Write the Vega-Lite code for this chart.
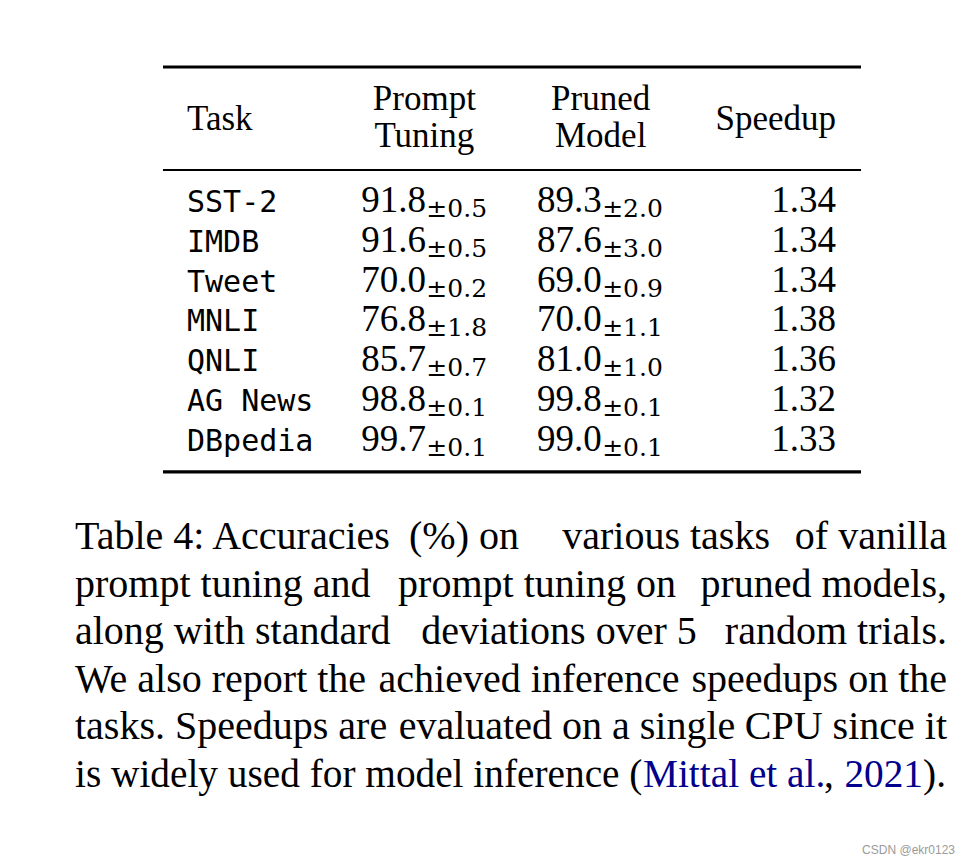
{
  "$schema": "https://vega.github.io/schema/vega-lite/v6.json",
  "width": 968,
  "height": 864,
  "autosize": "none",
  "padding": 0,
  "background": "white",
  "config": {"view": {"stroke": null}, "text": {"color": "black"}},
  "datasets": {
    "rows": [
      {"i": 0, "task": "SST-2", "pt": 91.8, "pt_sd": 0.5, "pm": 89.3, "pm_sd": 2.0, "speedup": 1.34},
      {"i": 1, "task": "IMDB", "pt": 91.6, "pt_sd": 0.5, "pm": 87.6, "pm_sd": 3.0, "speedup": 1.34},
      {"i": 2, "task": "Tweet", "pt": 70.0, "pt_sd": 0.2, "pm": 69.0, "pm_sd": 0.9, "speedup": 1.34},
      {"i": 3, "task": "MNLI", "pt": 76.8, "pt_sd": 1.8, "pm": 70.0, "pm_sd": 1.1, "speedup": 1.38},
      {"i": 4, "task": "QNLI", "pt": 85.7, "pt_sd": 0.7, "pm": 81.0, "pm_sd": 1.0, "speedup": 1.36},
      {"i": 5, "task": "AG News", "pt": 98.8, "pt_sd": 0.1, "pm": 99.8, "pm_sd": 0.1, "speedup": 1.32},
      {"i": 6, "task": "DBpedia", "pt": 99.7, "pt_sd": 0.1, "pm": 99.0, "pm_sd": 0.1, "speedup": 1.33}
    ],
    "caption": [
      {"line": 0, "part": "start", "text": "Table 4:  Accuracies"},
      {"line": 0, "part": "mid-left", "text": "(%) on"},
      {"line": 0, "part": "mid-right", "text": "various tasks"},
      {"line": 0, "part": "end", "text": "of vanilla"},
      {"line": 1, "part": "start", "text": "prompt tuning and"},
      {"line": 1, "part": "middle", "text": "prompt tuning on"},
      {"line": 1, "part": "end", "text": "pruned models,"},
      {"line": 2, "part": "start", "text": "along with standard"},
      {"line": 2, "part": "middle", "text": "deviations over 5"},
      {"line": 2, "part": "end", "text": "random trials."},
      {"line": 3, "part": "start", "text": "We also report the"},
      {"line": 3, "part": "middle", "text": "achieved inference"},
      {"line": 3, "part": "end", "text": "speedups on the"},
      {"line": 4, "part": "start", "text": "tasks. Speedups are"},
      {"line": 4, "part": "middle", "text": "evaluated on a single"},
      {"line": 4, "part": "end", "text": "CPU since it"},
      {"line": 5, "part": "last-start", "text": "is widely used for model inference ("},
      {"line": 5, "part": "cite-author", "text": "Mittal et al."},
      {"line": 5, "part": "comma", "text": ","},
      {"line": 5, "part": "cite-year", "text": "2021"},
      {"line": 5, "part": "close", "text": ")."}
    ]
  },
  "resolve": {"scale": {"y": "independent"}},
  "layer": [
    {
      "data": {"values": [{"rule": "top"}]},
      "mark": {"type": "rule", "strokeWidth": 3.2, "color": "black", "xOffset": -24, "x2Offset": 25, "yOffset": -145},
      "encoding": {
        "x": {"datum": "Task", "type": "nominal", "scale": {"type": "point", "domain": ["Task", "Prompt Tuning", "Pruned Model", "Speedup"], "range": [187, 836], "padding": 0}, "axis": null},
        "x2": {"datum": "Speedup"},
        "y": {"datum": 0, "type": "quantitative", "scale": {"domain": [0, 6], "range": [212, 450.8], "zero": false, "nice": false}, "axis": null}
      }
    },
    {
      "data": {"values": [{"rule": "mid"}]},
      "mark": {"type": "rule", "strokeWidth": 1.9, "color": "black", "xOffset": -24, "x2Offset": 25, "yOffset": -42},
      "encoding": {
        "x": {"datum": "Task", "type": "nominal", "axis": null},
        "x2": {"datum": "Speedup"},
        "y": {"datum": 0, "type": "quantitative", "scale": {"domain": [0, 6], "range": [212, 450.8], "zero": false, "nice": false}, "axis": null}
      }
    },
    {
      "data": {"values": [{"rule": "bottom"}]},
      "mark": {"type": "rule", "strokeWidth": 3.2, "color": "black", "xOffset": -24, "x2Offset": 25, "yOffset": 21},
      "encoding": {
        "x": {"datum": "Task", "type": "nominal", "axis": null},
        "x2": {"datum": "Speedup"},
        "y": {"datum": 6, "type": "quantitative", "scale": {"domain": [0, 6], "range": [212, 450.8], "zero": false, "nice": false}, "axis": null}
      }
    },
    {
      "data": {"values": [{"label": "Task"}]},
      "mark": {"type": "text", "font": "Liberation Serif", "fontSize": 35, "align": "left", "baseline": "alphabetic", "dy": -82},
      "encoding": {
        "x": {"datum": "Task", "type": "nominal", "axis": null},
        "y": {"datum": 0, "type": "quantitative", "scale": {"domain": [0, 6], "range": [212, 450.8], "zero": false, "nice": false}, "axis": null},
        "text": {"field": "label"}
      }
    },
    {
      "data": {"values": [{"label": "Prompt"}]},
      "mark": {"type": "text", "font": "Liberation Serif", "fontSize": 35, "align": "center", "baseline": "alphabetic", "dx": 21, "dy": -102},
      "encoding": {
        "x": {"datum": "Prompt Tuning", "type": "nominal", "axis": null},
        "y": {"datum": 0, "type": "quantitative", "scale": {"domain": [0, 6], "range": [212, 450.8], "zero": false, "nice": false}, "axis": null},
        "text": {"field": "label"}
      }
    },
    {
      "data": {"values": [{"label": "Tuning"}]},
      "mark": {"type": "text", "font": "Liberation Serif", "fontSize": 35, "align": "center", "baseline": "alphabetic", "dx": 21, "dy": -65},
      "encoding": {
        "x": {"datum": "Prompt Tuning", "type": "nominal", "axis": null},
        "y": {"datum": 0, "type": "quantitative", "scale": {"domain": [0, 6], "range": [212, 450.8], "zero": false, "nice": false}, "axis": null},
        "text": {"field": "label"}
      }
    },
    {
      "data": {"values": [{"label": "Pruned"}]},
      "mark": {"type": "text", "font": "Liberation Serif", "fontSize": 35, "align": "center", "baseline": "alphabetic", "dx": -19, "dy": -102},
      "encoding": {
        "x": {"datum": "Pruned Model", "type": "nominal", "axis": null},
        "y": {"datum": 0, "type": "quantitative", "scale": {"domain": [0, 6], "range": [212, 450.8], "zero": false, "nice": false}, "axis": null},
        "text": {"field": "label"}
      }
    },
    {
      "data": {"values": [{"label": "Model"}]},
      "mark": {"type": "text", "font": "Liberation Serif", "fontSize": 35, "align": "center", "baseline": "alphabetic", "dx": -19, "dy": -65},
      "encoding": {
        "x": {"datum": "Pruned Model", "type": "nominal", "axis": null},
        "y": {"datum": 0, "type": "quantitative", "scale": {"domain": [0, 6], "range": [212, 450.8], "zero": false, "nice": false}, "axis": null},
        "text": {"field": "label"}
      }
    },
    {
      "data": {"values": [{"label": "Speedup"}]},
      "mark": {"type": "text", "font": "Liberation Serif", "fontSize": 35, "align": "right", "baseline": "alphabetic", "dy": -82},
      "encoding": {
        "x": {"datum": "Speedup", "type": "nominal", "axis": null},
        "y": {"datum": 0, "type": "quantitative", "scale": {"domain": [0, 6], "range": [212, 450.8], "zero": false, "nice": false}, "axis": null},
        "text": {"field": "label"}
      }
    },
    {
      "data": {"name": "rows"},
      "mark": {"type": "text", "font": "DejaVu Sans Mono", "fontSize": 30, "align": "left", "baseline": "alphabetic"},
      "encoding": {
        "x": {"datum": "Task", "type": "nominal", "axis": null},
        "y": {"field": "i", "type": "quantitative", "scale": {"domain": [0, 6], "range": [212, 450.8], "zero": false, "nice": false}, "axis": null},
        "text": {"field": "task"}
      }
    },
    {
      "data": {"name": "rows"},
      "mark": {"type": "text", "font": "Liberation Serif", "fontSize": 37, "align": "left", "baseline": "alphabetic", "dx": -42},
      "encoding": {
        "x": {"datum": "Prompt Tuning", "type": "nominal", "axis": null},
        "y": {"field": "i", "type": "quantitative", "scale": {"domain": [0, 6], "range": [212, 450.8], "zero": false, "nice": false}, "axis": null},
        "text": {"field": "pt", "format": ".1f"}
      }
    },
    {
      "data": {"name": "rows"},
      "transform": [{"calculate": "'±' + format(datum.pt_sd, '.1f')", "as": "pt_sd_label"}],
      "mark": {"type": "text", "font": "DejaVu Serif", "fontSize": 25, "align": "left", "baseline": "alphabetic", "dx": 23, "dy": 5},
      "encoding": {
        "x": {"datum": "Prompt Tuning", "type": "nominal", "axis": null},
        "y": {"field": "i", "type": "quantitative", "scale": {"domain": [0, 6], "range": [212, 450.8], "zero": false, "nice": false}, "axis": null},
        "text": {"field": "pt_sd_label"}
      }
    },
    {
      "data": {"name": "rows"},
      "mark": {"type": "text", "font": "Liberation Serif", "fontSize": 37, "align": "left", "baseline": "alphabetic", "dx": -82.7},
      "encoding": {
        "x": {"datum": "Pruned Model", "type": "nominal", "axis": null},
        "y": {"field": "i", "type": "quantitative", "scale": {"domain": [0, 6], "range": [212, 450.8], "zero": false, "nice": false}, "axis": null},
        "text": {"field": "pm", "format": ".1f"}
      }
    },
    {
      "data": {"name": "rows"},
      "transform": [{"calculate": "'±' + format(datum.pm_sd, '.1f')", "as": "pm_sd_label"}],
      "mark": {"type": "text", "font": "DejaVu Serif", "fontSize": 25, "align": "left", "baseline": "alphabetic", "dx": -17.5, "dy": 5},
      "encoding": {
        "x": {"datum": "Pruned Model", "type": "nominal", "axis": null},
        "y": {"field": "i", "type": "quantitative", "scale": {"domain": [0, 6], "range": [212, 450.8], "zero": false, "nice": false}, "axis": null},
        "text": {"field": "pm_sd_label"}
      }
    },
    {
      "data": {"name": "rows"},
      "mark": {"type": "text", "font": "Liberation Serif", "fontSize": 37, "align": "right", "baseline": "alphabetic"},
      "encoding": {
        "x": {"datum": "Speedup", "type": "nominal", "axis": null},
        "y": {"field": "i", "type": "quantitative", "scale": {"domain": [0, 6], "range": [212, 450.8], "zero": false, "nice": false}, "axis": null},
        "text": {"field": "speedup", "format": ".2f"}
      }
    },
    {
      "data": {"name": "caption"},
      "transform": [{"filter": "datum.part === 'start'"}],
      "mark": {"type": "text", "font": "Liberation Serif", "fontSize": 40, "align": "left", "baseline": "alphabetic", "dx": -112},
      "encoding": {
        "x": {"datum": "Task", "type": "nominal", "axis": null},
        "y": {"field": "line", "type": "quantitative", "scale": {"domain": [0, 5], "range": [549, 787], "zero": false, "nice": false}, "axis": null},
        "text": {"field": "text"}
      }
    },
    {
      "data": {"name": "caption"},
      "transform": [{"filter": "datum.part === 'end'"}],
      "mark": {"type": "text", "font": "Liberation Serif", "fontSize": 40, "align": "right", "baseline": "alphabetic", "dx": 760},
      "encoding": {
        "x": {"datum": "Task", "type": "nominal", "axis": null},
        "y": {"field": "line", "type": "quantitative", "scale": {"domain": [0, 5], "range": [549, 787], "zero": false, "nice": false}, "axis": null},
        "text": {"field": "text"}
      }
    },
    {
      "data": {"name": "caption"},
      "transform": [{"filter": "datum.part === 'mid-left'"}],
      "mark": {"type": "text", "font": "Liberation Serif", "fontSize": 40, "align": "left", "baseline": "alphabetic", "dx": 222},
      "encoding": {
        "x": {"datum": "Task", "type": "nominal", "axis": null},
        "y": {"field": "line", "type": "quantitative", "scale": {"domain": [0, 5], "range": [549, 787], "zero": false, "nice": false}, "axis": null},
        "text": {"field": "text"}
      }
    },
    {
      "data": {"name": "caption"},
      "transform": [{"filter": "datum.part === 'mid-right'"}],
      "mark": {"type": "text", "font": "Liberation Serif", "fontSize": 40, "align": "right", "baseline": "alphabetic", "dx": 583},
      "encoding": {
        "x": {"datum": "Task", "type": "nominal", "axis": null},
        "y": {"field": "line", "type": "quantitative", "scale": {"domain": [0, 5], "range": [549, 787], "zero": false, "nice": false}, "axis": null},
        "text": {"field": "text"}
      }
    },
    {
      "data": {"name": "caption"},
      "transform": [{"filter": "datum.part === 'middle' && datum.line === 1"}],
      "mark": {"type": "text", "font": "Liberation Serif", "fontSize": 40, "align": "center", "baseline": "alphabetic", "dx": 350},
      "encoding": {
        "x": {"datum": "Task", "type": "nominal", "axis": null},
        "y": {"field": "line", "type": "quantitative", "scale": {"domain": [0, 5], "range": [549, 787], "zero": false, "nice": false}, "axis": null},
        "text": {"field": "text"}
      }
    },
    {
      "data": {"name": "caption"},
      "transform": [{"filter": "datum.part === 'middle' && datum.line === 2"}],
      "mark": {"type": "text", "font": "Liberation Serif", "fontSize": 40, "align": "center", "baseline": "alphabetic", "dx": 372},
      "encoding": {
        "x": {"datum": "Task", "type": "nominal", "axis": null},
        "y": {"field": "line", "type": "quantitative", "scale": {"domain": [0, 5], "range": [549, 787], "zero": false, "nice": false}, "axis": null},
        "text": {"field": "text"}
      }
    },
    {
      "data": {"name": "caption"},
      "transform": [{"filter": "datum.part === 'middle' && datum.line === 3"}],
      "mark": {"type": "text", "font": "Liberation Serif", "fontSize": 40, "align": "center", "baseline": "alphabetic", "dx": 342},
      "encoding": {
        "x": {"datum": "Task", "type": "nominal", "axis": null},
        "y": {"field": "line", "type": "quantitative", "scale": {"domain": [0, 5], "range": [549, 787], "zero": false, "nice": false}, "axis": null},
        "text": {"field": "text"}
      }
    },
    {
      "data": {"name": "caption"},
      "transform": [{"filter": "datum.part === 'middle' && datum.line === 4"}],
      "mark": {"type": "text", "font": "Liberation Serif", "fontSize": 40, "align": "center", "baseline": "alphabetic", "dx": 380},
      "encoding": {
        "x": {"datum": "Task", "type": "nominal", "axis": null},
        "y": {"field": "line", "type": "quantitative", "scale": {"domain": [0, 5], "range": [549, 787], "zero": false, "nice": false}, "axis": null},
        "text": {"field": "text"}
      }
    },
    {
      "data": {"name": "caption"},
      "transform": [{"filter": "datum.part === 'last-start'"}],
      "mark": {"type": "text", "font": "Liberation Serif", "fontSize": 39.3, "align": "left", "baseline": "alphabetic", "dx": -112},
      "encoding": {
        "x": {"datum": "Task", "type": "nominal", "axis": null},
        "y": {"field": "line", "type": "quantitative", "scale": {"domain": [0, 5], "range": [549, 787], "zero": false, "nice": false}, "axis": null},
        "text": {"field": "text"}
      }
    },
    {
      "data": {"name": "caption"},
      "transform": [{"filter": "datum.part === 'cite-author'"}],
      "mark": {"type": "text", "font": "Liberation Serif", "fontSize": 39.3, "align": "left", "baseline": "alphabetic", "dx": 456, "color": "#00008C"},
      "encoding": {
        "x": {"datum": "Task", "type": "nominal", "axis": null},
        "y": {"field": "line", "type": "quantitative", "scale": {"domain": [0, 5], "range": [549, 787], "zero": false, "nice": false}, "axis": null},
        "text": {"field": "text"}
      }
    },
    {
      "data": {"name": "caption"},
      "transform": [{"filter": "datum.part === 'comma'"}],
      "mark": {"type": "text", "font": "Liberation Serif", "fontSize": 39.3, "align": "left", "baseline": "alphabetic", "dx": 637},
      "encoding": {
        "x": {"datum": "Task", "type": "nominal", "axis": null},
        "y": {"field": "line", "type": "quantitative", "scale": {"domain": [0, 5], "range": [549, 787], "zero": false, "nice": false}, "axis": null},
        "text": {"field": "text"}
      }
    },
    {
      "data": {"name": "caption"},
      "transform": [{"filter": "datum.part === 'cite-year'"}],
      "mark": {"type": "text", "font": "Liberation Serif", "fontSize": 39.3, "align": "right", "baseline": "alphabetic", "dx": 736, "color": "#00008C"},
      "encoding": {
        "x": {"datum": "Task", "type": "nominal", "axis": null},
        "y": {"field": "line", "type": "quantitative", "scale": {"domain": [0, 5], "range": [549, 787], "zero": false, "nice": false}, "axis": null},
        "text": {"field": "text"}
      }
    },
    {
      "data": {"name": "caption"},
      "transform": [{"filter": "datum.part === 'close'"}],
      "mark": {"type": "text", "font": "Liberation Serif", "fontSize": 39.3, "align": "right", "baseline": "alphabetic", "dx": 759},
      "encoding": {
        "x": {"datum": "Task", "type": "nominal", "axis": null},
        "y": {"field": "line", "type": "quantitative", "scale": {"domain": [0, 5], "range": [549, 787], "zero": false, "nice": false}, "axis": null},
        "text": {"field": "text"}
      }
    },
    {
      "data": {"values": [{"mark": "CSDN @ekr0123"}]},
      "mark": {"type": "text", "font": "Liberation Sans", "fontSize": 12, "align": "right", "baseline": "alphabetic", "dx": 119, "dy": 403, "color": "#9a9a9a"},
      "encoding": {
        "x": {"datum": "Speedup", "type": "nominal", "axis": null},
        "y": {"datum": 6, "type": "quantitative", "scale": {"domain": [0, 6], "range": [212, 450.8], "zero": false, "nice": false}, "axis": null},
        "text": {"field": "mark"}
      }
    }
  ]
}
